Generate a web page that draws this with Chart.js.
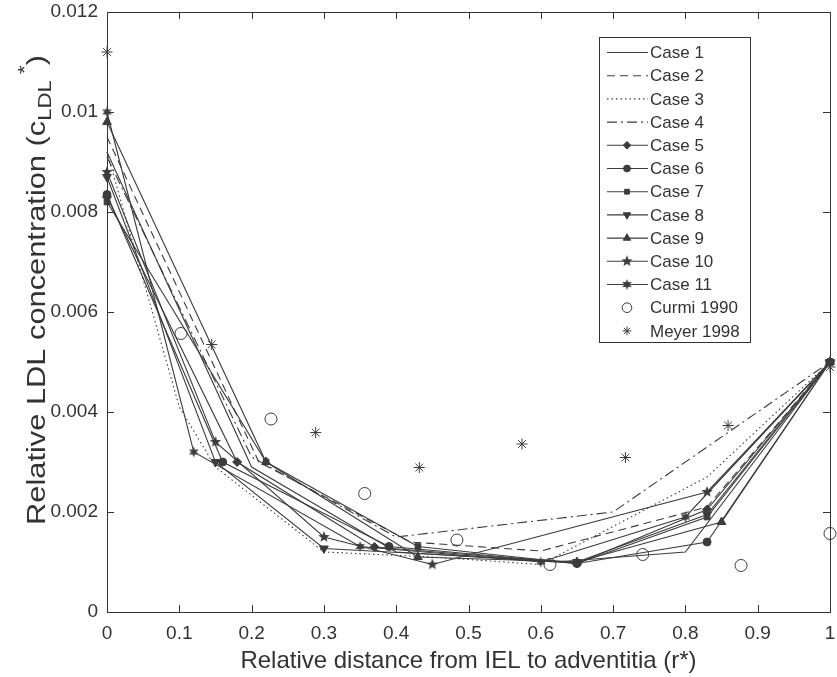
<!DOCTYPE html>
<html><head><meta charset="utf-8">
<script src="https://cdn.jsdelivr.net/npm/chart.js@4/dist/chart.umd.min.js"></script>
<style>html,body{margin:0;padding:0;background:#fff;}#wrap{width:837px;height:677px;position:relative;}</style>
</head><body><div id="wrap"><canvas id="c" width="837" height="677"></canvas></div>
<script>
// ---- data ----
const seriesNames = ['Case 1','Case 2','Case 3','Case 4','Case 5','Case 6','Case 7','Case 8','Case 9','Case 10','Case 11','Curmi 1990','Meyer 1998'];
const xTickLabels = ['0','0.1','0.2','0.3','0.4','0.5','0.6','0.7','0.8','0.9','1'];
const yTickLabels = ['0','0.002','0.004','0.006','0.008','0.01','0.012'];

const case1X = [0, 0.2, 0.4, 0.62, 0.8, 1];
const case1Y = [0.0092, 0.0029, 0.0012, 0.001, 0.0012, 0.005];
const case2X = [0, 0.21, 0.42, 0.6, 0.83, 1];
const case2Y = [0.0095, 0.003, 0.0014, 0.00122, 0.0021, 0.005];
const case3X = [0, 0.1, 0.15, 0.3, 0.45, 0.6, 0.83, 1];
const case3Y = [0.0092, 0.0041, 0.0029, 0.0012, 0.0011, 0.00095, 0.0027, 0.005];
const case4X = [0, 0.2, 0.4, 0.7, 1];
const case4Y = [0.0091, 0.0031, 0.0015, 0.002, 0.005];
const case5X = [0, 0.18, 0.37, 0.65, 0.83, 1];
const case5Y = [0.0083, 0.003, 0.0013, 0.00097, 0.00205, 0.005];
const case6X = [0, 0.16, 0.39, 0.65, 0.83, 1];
const case6Y = [0.00835, 0.003, 0.00131, 0.00097, 0.0014, 0.005];
const case7X = [0, 0.22, 0.43, 0.65, 0.83, 1];
const case7Y = [0.0082, 0.003, 0.00131, 0.00097, 0.0019, 0.005];
const case8X = [0, 0.15, 0.3, 0.65, 0.83, 1];
const case8Y = [0.0087, 0.003, 0.00127, 0.001, 0.00195, 0.005];
const case9X = [0, 0.22, 0.43, 0.65, 0.85, 1];
const case9Y = [0.0098, 0.003, 0.0011, 0.001, 0.0018, 0.005];
const case10X = [0, 0.15, 0.3, 0.45, 0.83, 1];
const case10Y = [0.0088, 0.0034, 0.0015, 0.00095, 0.0024, 0.005];
const case11X = [0, 0.12, 0.35, 0.6, 0.8, 1];
const case11Y = [0.01, 0.0032, 0.00131, 0.001, 0.0019, 0.005];
const curmiX = [0.1023, 0.2268, 0.3564, 0.484, 0.6127, 0.741, 0.877, 1.0];
const curmiY = [0.00557, 0.00386, 0.00237, 0.00144, 0.00095, 0.00115, 0.00093, 0.00157];
const meyerX = [0, 0.1448, 0.2886, 0.432, 0.574, 0.717, 0.859, 1];
const meyerY = [0.0112, 0.00535, 0.00359, 0.00289, 0.00336, 0.00309, 0.00373, 0.0049];

// ---- styling ----
const INK = '#3c3c3c';
const TXT = '#333333';
const FAM = '"Liberation Sans", Arial, sans-serif';
function starCanvas(n, outer, inner) {
  const s = Math.ceil(outer * 2 + 2);
  const c = document.createElement('canvas');
  c.width = s; c.height = s;
  const g = c.getContext('2d');
  g.fillStyle = INK;
  g.beginPath();
  for (let i = 0; i < 2 * n; i++) {
    const r = i % 2 === 0 ? outer : inner;
    const a = -Math.PI / 2 + i * Math.PI / n;
    const px = s / 2 + r * Math.cos(a), py = s / 2 + r * Math.sin(a);
    if (i === 0) g.moveTo(px, py); else g.lineTo(px, py);
  }
  g.closePath(); g.fill();
  return c;
}
const star5 = starCanvas(5, 6, 2.6);
const star6 = starCanvas(6, 5.5, 2.6);

const pts = (xs, ys) => xs.map((x, i) => ({x, y: ys[i]}));
const seriesData = [
  pts(case1X, case1Y), pts(case2X, case2Y), pts(case3X, case3Y), pts(case4X, case4Y),
  pts(case5X, case5Y), pts(case6X, case6Y), pts(case7X, case7Y), pts(case8X, case8Y),
  pts(case9X, case9Y), pts(case10X, case10Y), pts(case11X, case11Y),
  pts(curmiX, curmiY), pts(meyerX, meyerY)
];
const styles = [
  {dash: [], ps: false},
  {dash: [8, 5], ps: false},
  {dash: [1.5, 3], ps: false},
  {dash: [10, 4, 2, 4], ps: false},
  {dash: [], ps: 'rectRot', r: 4.5},
  {dash: [], ps: 'circle', r: 4},
  {dash: [], ps: 'rect', r: 4},
  {dash: [], ps: 'triangle', r: 5, rot: 180},
  {dash: [], ps: 'triangle', r: 5},
  {dash: [], ps: star5, r: 6},
  {dash: [], ps: star6, r: 6},
  {line: false, ps: 'circle', r: 6, open: true},
  {line: false, ps: 'star', r: 5.5, open: true}
];

const datasets = seriesData.map((d, i) => {
  const s = styles[i];
  const isLine = s.line !== false;
  return {
    label: seriesNames[i],
    data: d,
    showLine: isLine,
    borderColor: INK,
    backgroundColor: s.open ? 'rgba(0,0,0,0)' : INK,
    borderWidth: 1.1,
    borderDash: s.dash || [],
    pointStyle: s.ps || 'circle',
    pointRadius: s.ps ? s.r : 0,
    pointHoverRadius: s.ps ? s.r : 0,
    pointRotation: s.rot || 0,
    pointBorderWidth: 1,
    pointBorderColor: INK,
    pointBackgroundColor: s.open ? 'rgba(0,0,0,0)' : INK,
    clip: false,
    tension: 0
  };
});

const decor = {
  id: 'decor',
  beforeDatasetsDraw(chart) {
    const {ctx, chartArea: a, scales: {x, y}} = chart;
    ctx.save();
    ctx.strokeStyle = '#333';
    ctx.lineWidth = 1;
    ctx.strokeRect(Math.round(a.left) + 0.5, Math.round(a.top) + 0.5, Math.round(a.right - a.left), Math.round(a.bottom - a.top));
    const tl = 7;
    ctx.beginPath();
    x.ticks.forEach(t => {
      const px = Math.round(x.getPixelForValue(t.value)) + 0.5;
      ctx.moveTo(px, a.bottom); ctx.lineTo(px, a.bottom - tl);
      ctx.moveTo(px, a.top); ctx.lineTo(px, a.top + tl);
    });
    y.ticks.forEach(t => {
      const py = Math.round(y.getPixelForValue(t.value)) + 0.5;
      ctx.moveTo(a.left, py); ctx.lineTo(a.left + tl, py);
      ctx.moveTo(a.right, py); ctx.lineTo(a.right - tl, py);
    });
    ctx.stroke();
    ctx.restore();
  },
  afterDraw(chart) {
    const {ctx, chartArea: a} = chart;
    ctx.save();
    // x title
    ctx.fillStyle = TXT;
    ctx.font = '24px ' + FAM;
    ctx.textAlign = 'center';
    ctx.textBaseline = 'middle';
    ctx.fillText('Relative distance from IEL to adventitia (r*)', (a.left + a.right) / 2, 661);
    // y title with sub/superscript
    const mainF = '25px ' + FAM;
    const smallF = '18px ' + FAM;
    const parts = [
      {t: 'Relative LDL concentration (c', f: mainF, dy: 0},
      {t: 'LDL', f: smallF, dy: 6},
      {t: ' *', f: smallF, dy: -14},
      {t: ')', f: mainF, dy: 0}
    ];
    let total = 0;
    parts.forEach(p => { ctx.font = p.f; p.w = ctx.measureText(p.t).width; total += p.w; });
    const stretch = 470 / total;
    ctx.translate(45, 290);
    ctx.rotate(-Math.PI / 2);
    ctx.scale(stretch, 1);
    ctx.textAlign = 'left';
    ctx.textBaseline = 'alphabetic';
    let cx = -total / 2;
    parts.forEach(p => { ctx.font = p.f; ctx.fillText(p.t, cx, p.dy); cx += p.w; });
    ctx.restore();

    // legend
    ctx.save();
    const bx = 599.5, by = 37.5, bw = 151, bh = 305;
    ctx.fillStyle = '#fff';
    ctx.fillRect(bx, by, bw, bh);
    ctx.strokeStyle = '#333';
    ctx.lineWidth = 1;
    ctx.strokeRect(bx, by, bw, bh);
    ctx.font = '17px ' + FAM;
    ctx.textBaseline = 'middle';
    ctx.textAlign = 'left';
    chart.data.datasets.forEach((ds, i) => {
      const yy = 52.5 + i * 23.2;
      const s = styles[i];
      ctx.strokeStyle = INK;
      ctx.fillStyle = INK;
      ctx.lineWidth = 1.1;
      if (s.line !== false) {
        ctx.setLineDash(s.dash || []);
        ctx.beginPath(); ctx.moveTo(607, yy); ctx.lineTo(648, yy); ctx.stroke();
        ctx.setLineDash([]);
      }
      if (s.ps) {
        ctx.fillStyle = s.open ? 'rgba(0,0,0,0)' : INK;
        ctx.lineWidth = 1;
        Chart.helpers.drawPoint(ctx, {pointStyle: s.ps, rotation: s.rot || 0, radius: s.open ? s.r * 0.8 : s.r * 0.85, borderWidth: 1}, 627, yy);
      }
      ctx.fillStyle = TXT;
      ctx.fillText(ds.label, 650, yy + 1);
    });
    ctx.restore();
  }
};

new Chart(document.getElementById('c'), {
  type: 'scatter',
  data: {datasets},
  options: {
    responsive: false,
    animation: false,
    devicePixelRatio: 1,
    layout: {padding: {top: 12, right: 7, left: 0, bottom: 0}},
    plugins: {legend: {display: false}, tooltip: {enabled: false}},
    scales: {
      x: {
        type: 'linear', min: 0, max: 1,
        grid: {display: false, drawTicks: false},
        border: {display: false},
        ticks: {stepSize: 0.1, color: TXT, padding: 10, maxRotation: 0,
          font: {size: 19, family: FAM},
          callback: (v, i) => xTickLabels[i]},
        afterFit: s => { s.height = 65; s.paddingLeft = 0; s.paddingRight = 0; }
      },
      y: {
        type: 'linear', min: 0, max: 0.012,
        grid: {display: false, drawTicks: false},
        border: {display: false},
        ticks: {stepSize: 0.002, color: TXT, padding: 9,
          font: {size: 19, family: FAM},
          callback: (v, i) => yTickLabels[i]},
        afterFit: s => { s.width = 107; s.paddingTop = 0; s.paddingBottom = 0; }
      }
    }
  },
  plugins: [decor]
});
</script>
</body></html>
